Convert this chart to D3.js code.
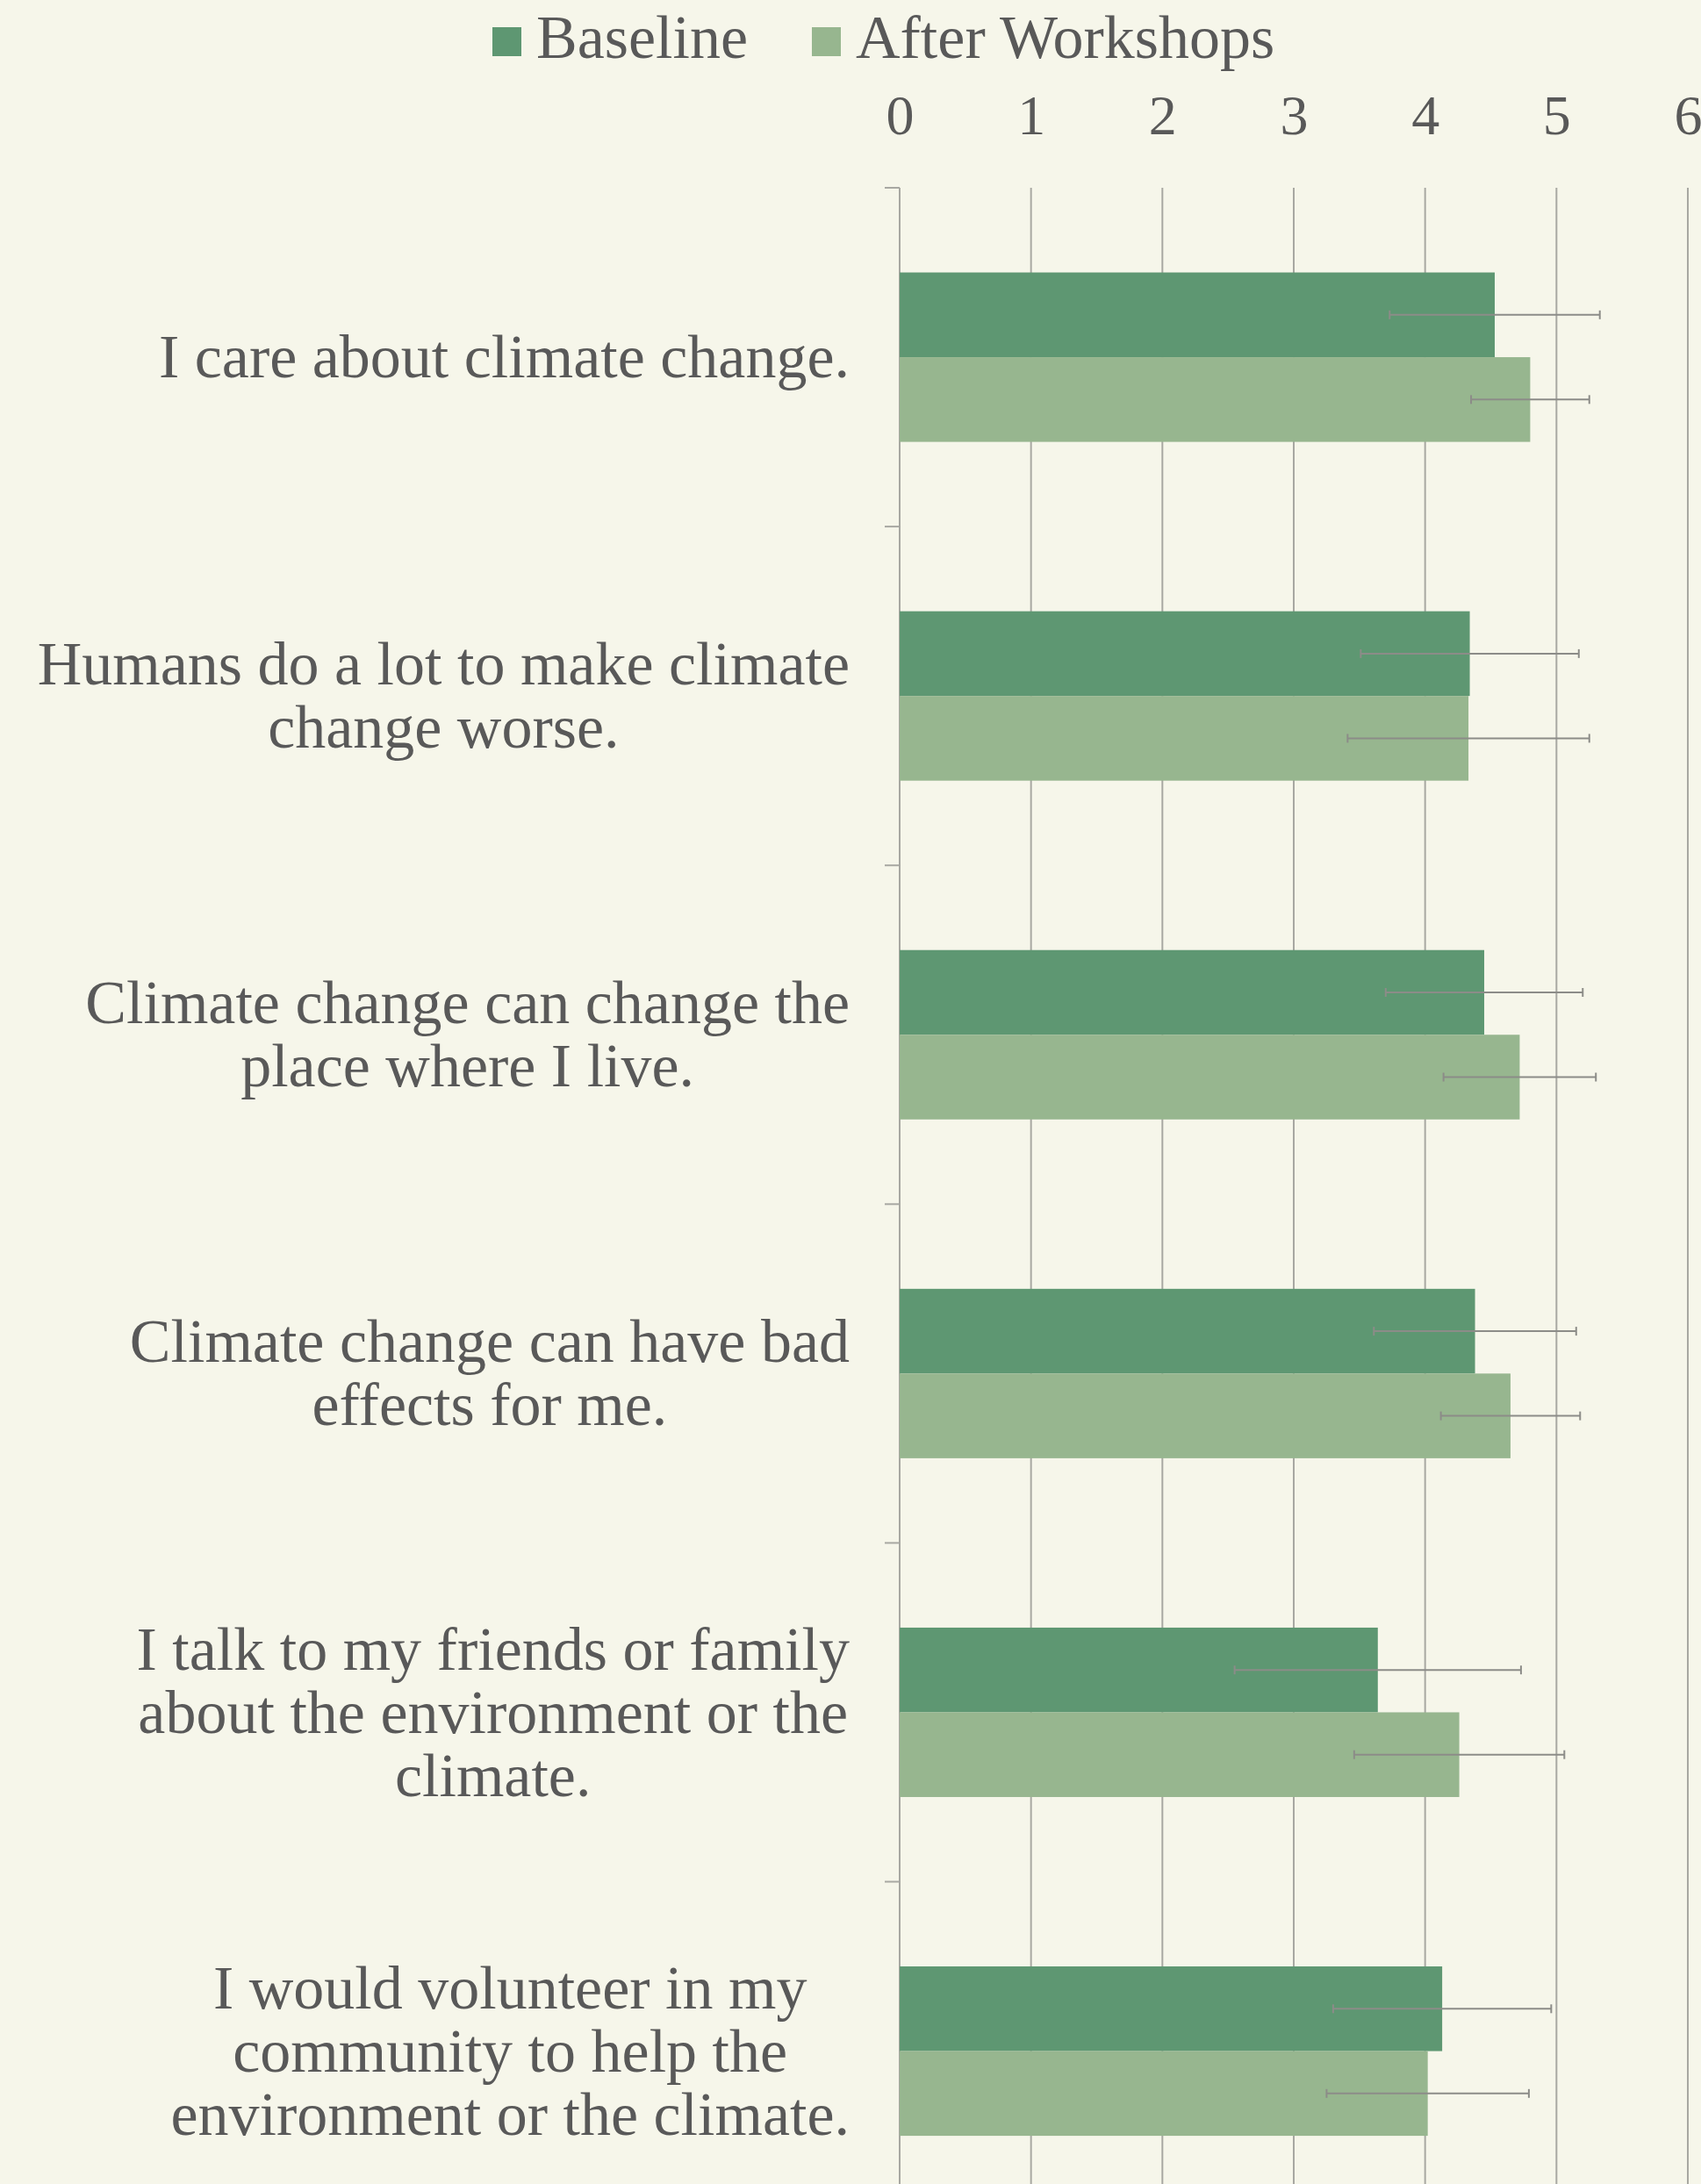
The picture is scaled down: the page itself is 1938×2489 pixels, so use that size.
<!DOCTYPE html>
<html>
<head>
<meta charset="utf-8">
<script src="https://cdn.jsdelivr.net/npm/d3@7.9.0/dist/d3.min.js"></script>
<style>
  html, body { margin: 0; padding: 0; background: #f6f6ea; }
  svg { display: block; }
  text { font-family: "Liberation Serif", "DejaVu Serif", serif; fill: #595959; }
</style>
</head>
<body>
<svg id="chart" width="1938" height="2489"></svg>
<script>
// data
const categories = [
  ["I care about climate change."],
  ["Humans do a lot to make climate", "change worse."],
  ["Climate change can change the", "place where I live."],
  ["Climate change can have bad", "effects for me."],
  ["I talk to my friends or family", "about the environment or the", "climate."],
  ["I would volunteer in my", "community to help the", "environment or the climate."]
];
const series = ["Baseline", "After Workshops"];
const baseline = [4.53, 4.34, 4.45, 4.38, 3.64, 4.13];
const afterWorkshops = [4.80, 4.33, 4.72, 4.65, 4.26, 4.02];
const baselineErr = [0.80, 0.83, 0.75, 0.77, 1.09, 0.83];
const afterErr = [0.45, 0.92, 0.58, 0.53, 0.80, 0.77];
const ticks = [0, 1, 2, 3, 4, 5, 6];

const colors = d3.scaleOrdinal().domain(series).range(["#5e9772", "#97b68f"]);

const svg = d3.select('#chart');
const W = 1938, H = 2489;
svg.append('rect').attr('width', W).attr('height', H).attr('fill', '#f6f6ea');

const ids = categories.map((_, i) => i);
let x = d3.scaleLinear().domain([0, 6]).range([1025, 1923]);
let y = d3.scaleBand().domain(ids).range([214, 214 + 6 * 386.1])
  .paddingInner(0.5).paddingOuter(0.25);
let ySub = d3.scaleBand().domain(series).range([0, y.bandwidth()]);

let rows = ids.map(i => [
  { s: series[0], v: baseline[i], e: baselineErr[i] },
  { s: series[1], v: afterWorkshops[i], e: afterErr[i] }
]);

// gridlines
svg.append('g')
  .selectAll('line')
  .data(ticks)
  .join('line')
  .attr('x1', d => x(d)).attr('x2', d => x(d))
  .attr('y1', 214).attr('y2', H)
  .attr('stroke', '#a8a8a2')
  .attr('stroke-width', 2);

// category ticks on the left of the axis (band boundaries)
let step = y.step();
svg.append('g')
  .selectAll('line')
  .data(d3.range(7))
  .join('line')
  .attr('x1', x(0) - 17).attr('x2', x(0))
  .attr('y1', d => 214 + d * step).attr('y2', d => 214 + d * step)
  .attr('stroke', '#a8a8a2')
  .attr('stroke-width', 2);

// top axis labels
let xAxis = d3.axisTop(x).tickValues(ticks).tickFormat(d3.format('d')).tickSize(0).tickPadding(0);
let axisG = svg.append('g').attr('transform', 'translate(0,153)').call(xAxis);
axisG.select('.domain').remove();
axisG.selectAll('text')
  .attr('font-size', 64)
  .attr('dy', 0)
  .attr('fill', '#595959')
  .style('font-family', '"Liberation Serif", serif');

// bars
let groups = svg.append('g')
  .selectAll('g')
  .data(rows)
  .join('g')
  .attr('transform', (d, i) => `translate(0,${y(i)})`);

groups.selectAll('rect')
  .data(d => d)
  .join('rect')
  .attr('x', x(0))
  .attr('y', d => ySub(d.s))
  .attr('width', d => x(d.v) - x(0))
  .attr('height', ySub.bandwidth())
  .attr('fill', d => colors(d.s));

// error bars
let err = groups.selectAll('g.err')
  .data(d => d)
  .join('g')
  .attr('class', 'err')
  .attr('stroke', '#8c8c88')
  .attr('stroke-width', 2);

err.append('line')
  .attr('x1', d => x(d.v - d.e)).attr('x2', d => x(d.v + d.e))
  .attr('y1', d => ySub(d.s) + ySub.bandwidth() / 2)
  .attr('y2', d => ySub(d.s) + ySub.bandwidth() / 2);

[-1, 1].forEach(sign => {
  err.append('line')
    .attr('x1', d => x(d.v + sign * d.e)).attr('x2', d => x(d.v + sign * d.e))
    .attr('y1', d => ySub(d.s) + ySub.bandwidth() / 2 - 5)
    .attr('y2', d => ySub(d.s) + ySub.bandwidth() / 2 + 5);
});

// category labels, lines centered, block right-aligned
const labelRight = 968, lineH = 72, labelSize = 70;
categories.forEach((lines, i) => {
  let g = svg.append('g');
  let cy = y(i) + y.bandwidth() / 2;
  let top = cy - (lines.length - 1) * lineH / 2;
  let texts = lines.map((t, k) => g.append('text')
    .attr('font-size', labelSize)
    .attr('y', top + k * lineH)
    .attr('dy', '0.33em')
    .attr('text-anchor', 'middle')
    .text(t));
  let maxW = d3.max(texts, t => t.node().getComputedTextLength());
  texts.forEach(t => t.attr('x', labelRight - maxW / 2));
});

// legend
let legendX = [561, 925];
series.forEach((s, i) => {
  svg.append('rect')
    .attr('x', legendX[i]).attr('y', 31)
    .attr('width', 33).attr('height', 33)
    .attr('fill', colors(s));
  svg.append('text')
    .attr('x', legendX[i] + 50).attr('y', 66)
    .attr('font-size', labelSize)
    .text(s);
});
</script>
</body>
</html>
